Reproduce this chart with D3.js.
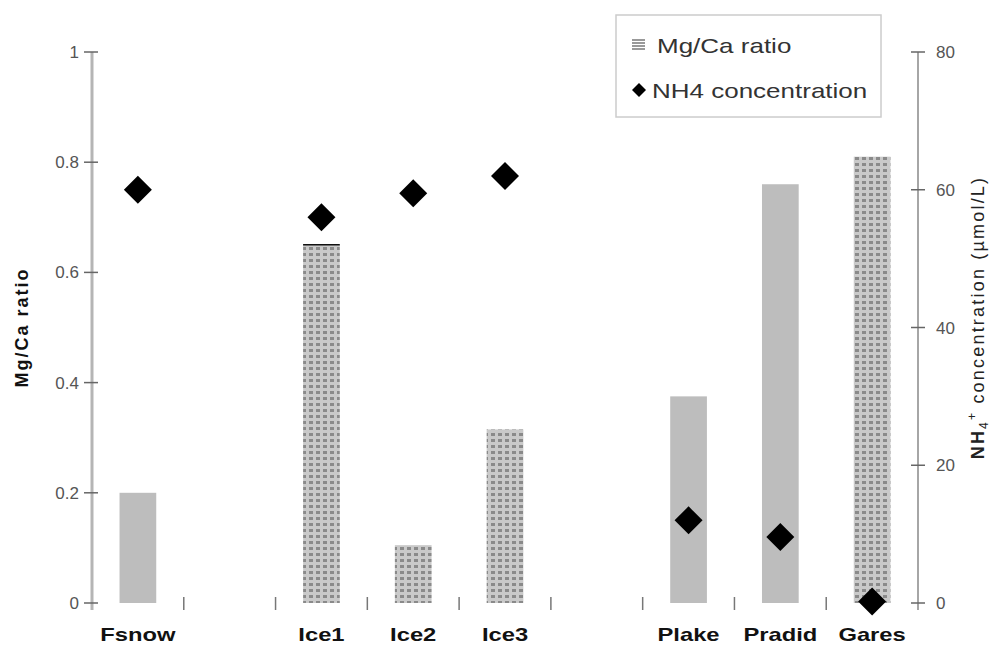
<!DOCTYPE html>
<html>
<head>
<meta charset="utf-8">
<script src="https://cdn.jsdelivr.net/npm/d3@7"></script>
<style>
  body { margin: 0; background: #fff; }
  svg { display: block; font-family: "Liberation Sans", Arial, sans-serif; }
</style>
</head>
<body>
<div id="graph"></div>
<script>
// categories (blank slots are gaps in the original layout)
var categories = ['Fsnow', 'gap1', 'Ice1', 'Ice2', 'Ice3', 'gap2', 'Plake', 'Pradid', 'Gares']
var labels     = ['Fsnow', '', 'Ice1', 'Ice2', 'Ice3', '', 'Plake', 'Pradid', 'Gares']

var barCats   = ['Fsnow', 'Ice1', 'Ice2', 'Ice3', 'Plake', 'Pradid', 'Gares']
var mgCa      = [0.2, 0.65, 0.105, 0.315, 0.375, 0.76, 0.81]
var nh4       = [60, 56, 59.5, 62, 12, 9.6, 0.2]
var patterned = ['Ice1', 'Ice2', 'Ice3', 'Gares']

var leftTicks  = [0, 0.2, 0.4, 0.6, 0.8, 1]
var rightTicks = [0, 20, 40, 60, 80]

var w = 997
var h = 646
var plotLeft = 92
var plotRight = 918
var plotTop = 52
var plotBottom = 603

var svg = d3.select('#graph')
	.append('svg')
	.attr('width', w)
	.attr('height', h)

// dotted fill for the ice / Gares bars
var defs = svg.append('defs')
var pat = defs.append('pattern')
	.attr('id', 'dots')
	.attr('patternUnits', 'userSpaceOnUse')
	.attr('width', 7)
	.attr('height', 6)
pat.append('rect').attr('width', 7).attr('height', 6).attr('fill', '#c9c9c9')
pat.append('rect').attr('x', 1).attr('y', 1).attr('width', 4).attr('height', 3).attr('fill', '#8a8a8a')

var x = d3.scaleBand()
	.domain(categories)
	.range([plotLeft, plotRight])
	.paddingInner(0.6)
	.paddingOuter(0.3)

var yL = d3.scaleLinear().domain([0, 1]).range([plotBottom, plotTop])
var yR = d3.scaleLinear().domain([0, 80]).range([plotBottom, plotTop])

// bars
svg.selectAll('rect.bar')
	.data(barCats)
	.enter()
	.append('rect')
	.attr('class', 'bar')
	.attr('x', (d) => x(d))
	.attr('width', x.bandwidth())
	.attr('y', (d, i) => yL(mgCa[i]))
	.attr('height', (d, i) => yL(0) - yL(mgCa[i]))
	.attr('fill', (d) => patterned.indexOf(d) >= 0 ? 'url(#dots)' : '#bdbdbd')

// dark top edge seen on Ice1
var i1 = barCats.indexOf('Ice1')
svg.append('line')
	.attr('x1', x('Ice1')).attr('x2', x('Ice1') + x.bandwidth())
	.attr('y1', yL(mgCa[i1])).attr('y2', yL(mgCa[i1]))
	.attr('stroke', '#111').attr('stroke-width', 1.5)

// category separator ticks
var seps = d3.range(1, categories.length)
svg.selectAll('line.sep')
	.data(seps)
	.enter()
	.append('line')
	.attr('x1', (d) => plotLeft + x.step() * d)
	.attr('x2', (d) => plotLeft + x.step() * d)
	.attr('y1', plotBottom - 6)
	.attr('y2', plotBottom + 7)
	.attr('stroke', '#777')
	.attr('stroke-width', 1.5)

// category labels (the scan is wide, so stretch them a bit)
svg.selectAll('text.cat')
	.data(categories)
	.enter()
	.append('text')
	.attr('transform', (d) => 'translate(' + (x(d) + x.bandwidth() / 2) + ',641) scale(1.25,1)')
	.attr('text-anchor', 'middle')
	.attr('font-weight', 'bold')
	.attr('font-size', 19)
	.attr('fill', '#111')
	.text((d, i) => labels[i])

// left axis
var leftAxis = svg.append('g')
leftAxis.append('line')
	.attr('x1', plotLeft).attr('x2', plotLeft)
	.attr('y1', plotTop).attr('y2', plotBottom + 7)
	.attr('stroke', '#b5b5b5').attr('stroke-width', 3)
leftAxis.selectAll('line.t')
	.data(leftTicks)
	.enter()
	.append('line')
	.attr('x1', plotLeft - 8).attr('x2', plotLeft + 6)
	.attr('y1', (d) => yL(d)).attr('y2', (d) => yL(d))
	.attr('stroke', '#666').attr('stroke-width', 1.5)
leftAxis.selectAll('text')
	.data(leftTicks)
	.enter()
	.append('text')
	.attr('x', 79)
	.attr('y', (d) => yL(d) + 6)
	.attr('text-anchor', 'end')
	.attr('font-size', 17)
	.attr('fill', '#555')
	.text((d) => d)

svg.append('text')
	.attr('transform', 'translate(28,' + ((plotTop + plotBottom) / 2) + ') rotate(-90)')
	.attr('text-anchor', 'middle')
	.attr('font-weight', 'bold')
	.attr('font-size', 18)
	.attr('letter-spacing', 2)
	.attr('fill', '#111')
	.text('Mg/Ca ratio')

// right axis
var rightAxis = svg.append('g')
rightAxis.append('line')
	.attr('x1', plotRight).attr('x2', plotRight)
	.attr('y1', plotTop).attr('y2', plotBottom + 7)
	.attr('stroke', '#888').attr('stroke-width', 1.5)
rightAxis.selectAll('line.t')
	.data(rightTicks)
	.enter()
	.append('line')
	.attr('x1', plotRight - 7).attr('x2', plotRight + 7)
	.attr('y1', (d) => yR(d)).attr('y2', (d) => yR(d))
	.attr('stroke', '#666').attr('stroke-width', 1.5)
rightAxis.selectAll('text')
	.data(rightTicks)
	.enter()
	.append('text')
	.attr('x', 936)
	.attr('y', (d) => yR(d) + 6)
	.attr('font-size', 17)
	.attr('fill', '#555')
	.text((d) => d)

var rt = svg.append('text')
	.attr('transform', 'translate(984,' + ((plotTop + plotBottom) / 2 - 10) + ') rotate(-90)')
	.attr('text-anchor', 'middle')
	.attr('font-size', 18)
	.attr('letter-spacing', 2.2)
	.attr('fill', '#222')
rt.append('tspan').attr('font-weight', 'bold').text('NH')
rt.append('tspan').attr('font-size', 12).attr('dy', 4).text('4')
rt.append('tspan').attr('font-size', 12).attr('dy', -12).text('+')
rt.append('tspan').attr('dy', 8).text(' concentration (µmol/L)')

// NH4 diamonds
var r = 14
svg.selectAll('path.nh4')
	.data(barCats)
	.enter()
	.append('path')
	.attr('class', 'nh4')
	.attr('d', function(d, i) {
		var cx = x(d) + x.bandwidth() / 2
		var cy = yR(nh4[i])
		return 'M' + cx + ',' + (cy - r) + 'L' + (cx + r) + ',' + cy +
			'L' + cx + ',' + (cy + r) + 'L' + (cx - r) + ',' + cy + 'Z'
	})
	.attr('fill', '#000')

// legend
var lg = svg.append('g').attr('transform', 'translate(616,15)')
lg.append('rect')
	.attr('width', 265).attr('height', 102)
	.attr('fill', '#fff').attr('stroke', '#ccc').attr('stroke-width', 1.5)
lg.selectAll('line.sw')
	.data([0, 3, 6, 9])
	.enter()
	.append('line')
	.attr('x1', 16).attr('x2', 29)
	.attr('y1', (d) => 25 + d).attr('y2', (d) => 25 + d)
	.attr('stroke', '#999').attr('stroke-width', 2)
lg.append('text')
	.attr('transform', 'translate(41,38) scale(1.3,1)')
	.attr('font-size', 20).attr('fill', '#333')
	.text('Mg/Ca ratio')
lg.append('path')
	.attr('d', 'M23,68L30,75L23,82L16,75Z')
	.attr('fill', '#000')
lg.append('text')
	.attr('transform', 'translate(36,83) scale(1.3,1)')
	.attr('font-size', 20).attr('fill', '#333')
	.text('NH4 concentration')
</script>
</body>
</html>
